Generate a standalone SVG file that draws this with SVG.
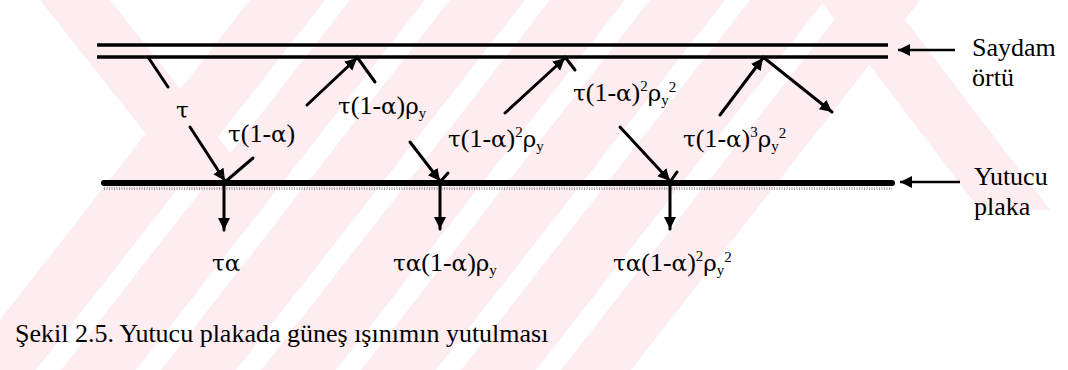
<svg xmlns="http://www.w3.org/2000/svg" width="1068" height="370" viewBox="0 0 1068 370">
  <defs>
    <marker id="ah" markerUnits="userSpaceOnUse" markerWidth="14" markerHeight="14" refX="12" refY="6" orient="auto">
      <path d="M0,0 L12,6 L0,12 z" fill="#000"/>
    </marker>
    <style>
      .wm { fill: #fdecf0; }
      .ray { stroke: #000; stroke-width: 3; fill: none; stroke-linecap: round; }
      .cover { stroke: #000; stroke-width: 3.5; }
      .plate { stroke: #000; stroke-width: 6; stroke-linecap: round; }
      .dots { stroke: #a0a0a0; stroke-width: 3; stroke-dasharray: 1 1.5; }
      .ptr { stroke: #000; stroke-width: 2.5; }
      .cap { font-family: "Liberation Serif", serif; font-size: 26px; fill: #000; }
      .g { font-family: "DejaVu Serif", serif; font-size: 23px; }
      .sm { font-family: "Liberation Serif", serif; font-size: 15px; }
    </style>
  </defs>

  <rect width="1068" height="370" fill="#fff"/>

  <g id="watermark">
    <polygon class="wm" points="250,0 325,0 36,370 -39,370"/>
    <polygon class="wm" points="350,0 425,0 136,370 61,370"/>
    <polygon class="wm" points="450,0 525,0 236,370 161,370"/>
    <polygon class="wm" points="550,0 625,0 336,370 261,370"/>
    <polygon class="wm" points="650,0 725,0 436,370 361,370"/>
    <polygon class="wm" points="750,0 825,0 536,370 461,370"/>
    <polygon class="wm" points="850,0 920,0 631,370 561,370"/>
    <polygon class="wm" points="40,0 110,0 260,190 190,190"/>
    <polygon class="wm" points="820,0 890,0 1050,210 980,210"/>
  </g>

  <g id="cover">
    <line class="cover" x1="97" y1="45" x2="888" y2="45"/>
    <line class="cover" x1="97" y1="57" x2="888" y2="57"/>
  </g>

  <g id="plate">
    <line class="dots" x1="104" y1="188.5" x2="892" y2="188.5"/>
    <line class="plate" x1="104" y1="183" x2="892" y2="183"/>
  </g>

  <g id="connectors">
    <line class="ray" x1="148" y1="57" x2="168" y2="87"/>
    <line class="ray" x1="190" y1="127" x2="225" y2="181" marker-end="url(#ah)"/>
    <line class="ray" x1="225" y1="182" x2="253" y2="158"/>
    <line class="ray" x1="307" y1="105" x2="357" y2="58" marker-end="url(#ah)"/>
    <line class="ray" x1="357" y1="57" x2="375" y2="82"/>
    <line class="ray" x1="410" y1="142" x2="440" y2="181" marker-end="url(#ah)"/>
    <line class="ray" x1="440" y1="182" x2="448" y2="173"/>
    <line class="ray" x1="505" y1="113" x2="565" y2="58" marker-end="url(#ah)"/>
    <line class="ray" x1="565" y1="57" x2="575" y2="70"/>
    <line class="ray" x1="620" y1="127" x2="670" y2="181" marker-end="url(#ah)"/>
    <line class="ray" x1="670" y1="182" x2="677" y2="172"/>
    <line class="ray" x1="720" y1="115" x2="763" y2="58" marker-end="url(#ah)"/>
    <line class="ray" x1="763" y1="57" x2="832" y2="112" marker-end="url(#ah)"/>
    <line class="ray" x1="224" y1="185" x2="224" y2="230" marker-end="url(#ah)"/>
    <line class="ray" x1="440" y1="185" x2="440" y2="229" marker-end="url(#ah)"/>
    <line class="ray" x1="670" y1="185" x2="670" y2="229" marker-end="url(#ah)"/>
    <line class="ptr" x1="955" y1="50" x2="898" y2="50" marker-end="url(#ah)"/>
    <line class="ptr" x1="960" y1="182" x2="900" y2="182" marker-end="url(#ah)"/>
  </g>

  <g id="ray-labels">
    <text class="cap" x="176" y="118"><tspan class="g">τ</tspan></text>
    <text class="cap" x="228" y="142"><tspan class="g">τ</tspan>(1-<tspan class="g">α</tspan>)</text>
    <text class="cap" x="338" y="114"><tspan class="g">τ</tspan>(1-<tspan class="g">α</tspan>)<tspan class="g">ρ</tspan><tspan class="sm" dy="4">y</tspan></text>
    <text class="cap" x="448" y="147"><tspan class="g">τ</tspan>(1-<tspan class="g">α</tspan>)<tspan class="sm" dy="-10">2</tspan><tspan class="g" dy="10">ρ</tspan><tspan class="sm" dy="4">y</tspan></text>
    <text class="cap" x="573" y="101"><tspan class="g">τ</tspan>(1-<tspan class="g">α</tspan>)<tspan class="sm" dy="-10">2</tspan><tspan class="g" dy="10">ρ</tspan><tspan class="sm" dy="4">y</tspan><tspan class="sm" dy="-13">2</tspan></text>
    <text class="cap" x="683" y="147"><tspan class="g">τ</tspan>(1-<tspan class="g">α</tspan>)<tspan class="sm" dy="-10">3</tspan><tspan class="g" dy="10">ρ</tspan><tspan class="sm" dy="4">y</tspan><tspan class="sm" dy="-13">2</tspan></text>
  </g>

  <g id="absorbed-labels">
    <text class="cap" x="212" y="271"><tspan class="g">τα</tspan></text>
    <text class="cap" x="393" y="271"><tspan class="g">τα</tspan>(1-<tspan class="g">α</tspan>)<tspan class="g">ρ</tspan><tspan class="sm" dy="4">y</tspan></text>
    <text class="cap" x="613" y="271"><tspan class="g">τα</tspan>(1-<tspan class="g">α</tspan>)<tspan class="sm" dy="-10">2</tspan><tspan class="g" dy="10">ρ</tspan><tspan class="sm" dy="4">y</tspan><tspan class="sm" dy="-13">2</tspan></text>
  </g>

  <g id="cover-label">
    <text class="cap" x="972" y="56">Saydam</text>
    <text class="cap" x="972" y="86">örtü</text>
  </g>
  <g id="plate-label">
    <text class="cap" x="974" y="185">Yutucu</text>
    <text class="cap" x="974" y="215">plaka</text>
  </g>

  <g id="caption">
    <text class="cap" x="15" y="342">Şekil 2.5. Yutucu plakada güneş ışınımın yutulması</text>
  </g>
</svg>
